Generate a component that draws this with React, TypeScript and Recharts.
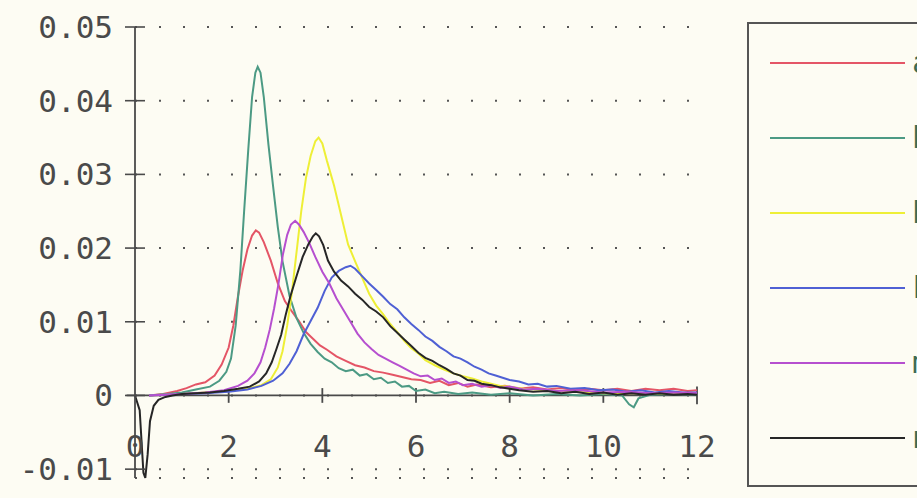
import React from 'react';
import { LineChart, Line, XAxis, YAxis, CartesianGrid, ReferenceLine } from 'recharts';

// Series labels and colours (legend order)
const seriesNames = ['a', 'b', 'h', 'k', 'm', 'n'];
const seriesColors = ['#e45566', '#4c9a84', '#eeef36', '#4f60d4', '#b64fcf', '#262626'];

const xTicks = [0, 2, 4, 6, 8, 10, 12];
const yTicks = [-0.01, 0, 0.01, 0.02, 0.03, 0.04, 0.05];
const xTickMarks = [2, 4, 6, 8, 10, 12];

// [x, y] readings per curve
const redPoints: [number, number][] = [
  [0.3, 0], [0.6, 0.0002], [0.9, 0.0006], [1.1, 0.001], [1.3, 0.0015], [1.5, 0.0018], [1.7, 0.0027],
  [1.85, 0.0042], [2.0, 0.0065], [2.1, 0.0095], [2.2, 0.0135], [2.3, 0.017], [2.4, 0.0198], [2.5, 0.0217],
  [2.58, 0.0224], [2.65, 0.0221], [2.75, 0.0208], [2.9, 0.0183], [3.05, 0.0152], [3.2, 0.0128], [3.35, 0.0114],
  [3.5, 0.0101], [3.65, 0.0086], [3.8, 0.0077], [3.95, 0.0068], [4.1, 0.0062], [4.3, 0.0053], [4.5, 0.0047],
  [4.7, 0.0041], [4.9, 0.0038], [5.1, 0.0033], [5.3, 0.0031], [5.5, 0.0028], [5.7, 0.0025], [5.9, 0.0022],
  [6.1, 0.0021], [6.3, 0.0017], [6.5, 0.002], [6.7, 0.0014], [6.9, 0.0017], [7.1, 0.0012], [7.3, 0.0015],
  [7.6, 0.0011], [7.9, 0.0013], [8.2, 0.0009], [8.5, 0.0011], [8.8, 0.0008], [9.1, 0.001], [9.4, 0.0007],
  [9.7, 0.0009], [10, 0.0007], [10.3, 0.0009], [10.6, 0.0006], [10.9, 0.0009], [11.2, 0.0007], [11.5, 0.0009],
  [11.8, 0.0006], [12, 0.0007],
];

const greenPoints: [number, number][] = [
  [0.3, 0], [0.7, 0.0002], [1.0, 0.0004], [1.3, 0.0008], [1.6, 0.0012], [1.8, 0.002], [1.95, 0.0032],
  [2.05, 0.005], [2.15, 0.0095], [2.25, 0.017], [2.33, 0.025], [2.42, 0.0335], [2.5, 0.0405], [2.57, 0.0438],
  [2.62, 0.0446], [2.68, 0.0438], [2.75, 0.0405], [2.85, 0.034], [2.95, 0.0283], [3.05, 0.0228], [3.15, 0.0182],
  [3.3, 0.0135], [3.45, 0.0105], [3.6, 0.0085], [3.75, 0.007], [3.9, 0.0059], [4.05, 0.005], [4.2, 0.0045],
  [4.35, 0.0037], [4.5, 0.0033], [4.65, 0.0035], [4.8, 0.0027], [4.95, 0.0029], [5.1, 0.0022], [5.25, 0.0024],
  [5.4, 0.0017], [5.55, 0.0019], [5.7, 0.0012], [5.85, 0.0013], [6.0, 0.0006], [6.2, 0.0008], [6.4, 0.0003],
  [6.6, 0.0005], [6.9, 0.0002], [7.2, 0.0004], [7.6, 0.0001], [8, 0.0003], [8.5, 0], [9, 0.0002], [9.5, 0],
  [10, 0.0002], [10.4, 0], [10.55, -0.0012], [10.65, -0.0016], [10.75, -0.0004], [11, 0.0001], [11.5, 0.0002],
  [12, 0.0001],
];

const yellowPoints: [number, number][] = [
  [0.3, 0], [1, 0.0002], [1.5, 0.0004], [2, 0.0006], [2.4, 0.0009], [2.7, 0.0014], [2.9, 0.0022],
  [3.05, 0.0038], [3.15, 0.006], [3.25, 0.0095], [3.35, 0.014], [3.45, 0.0195], [3.55, 0.025], [3.65, 0.0295],
  [3.75, 0.0325], [3.85, 0.0345], [3.92, 0.035], [4.0, 0.0342], [4.1, 0.0318], [4.25, 0.0285], [4.4, 0.0245],
  [4.55, 0.0205], [4.7, 0.0182], [4.85, 0.016], [5.0, 0.0138], [5.15, 0.0122], [5.3, 0.011], [5.45, 0.0097],
  [5.6, 0.0086], [5.75, 0.0074], [5.9, 0.0064], [6.05, 0.0057], [6.2, 0.0048], [6.4, 0.0041], [6.6, 0.0035],
  [6.8, 0.003], [7.0, 0.0026], [7.2, 0.0023], [7.4, 0.0019], [7.6, 0.0016], [7.8, 0.0013], [8.0, 0.0012],
  [8.3, 0.0009], [8.6, 0.0008], [9, 0.0006], [9.5, 0.0005], [10, 0.0003], [11, 0.0003], [12, 0.0002],
];

const bluePoints: [number, number][] = [
  [0.3, 0], [1, 0.0002], [1.5, 0.0003], [2, 0.0005], [2.4, 0.0008], [2.7, 0.0013], [2.95, 0.002],
  [3.15, 0.003], [3.3, 0.0043], [3.45, 0.006], [3.6, 0.0083], [3.75, 0.0101], [3.9, 0.0119], [4.05, 0.0142],
  [4.2, 0.016], [4.35, 0.0169], [4.5, 0.0174], [4.6, 0.0176], [4.7, 0.0172], [4.85, 0.0162], [5.0, 0.0152],
  [5.15, 0.0143], [5.3, 0.0134], [5.45, 0.0124], [5.6, 0.0117], [5.75, 0.0106], [5.9, 0.0097], [6.05, 0.0089],
  [6.2, 0.008], [6.35, 0.0074], [6.5, 0.0066], [6.65, 0.006], [6.8, 0.0053], [6.95, 0.005], [7.1, 0.0045],
  [7.25, 0.0039], [7.4, 0.0035], [7.55, 0.003], [7.7, 0.0027], [7.85, 0.0024], [8.0, 0.0021], [8.2, 0.0019],
  [8.4, 0.0015], [8.6, 0.0016], [8.8, 0.0012], [9.0, 0.0013], [9.3, 0.0009], [9.6, 0.001], [9.9, 0.0007],
  [10.2, 0.0008], [10.5, 0.0005], [10.8, 0.0007], [11.1, 0.0004], [11.4, 0.0006], [11.7, 0.0004], [12, 0.0004],
];

const magentaPoints: [number, number][] = [
  [0.3, 0], [1, 0.0002], [1.5, 0.0004], [1.9, 0.0007], [2.2, 0.0013], [2.4, 0.002], [2.55, 0.003],
  [2.68, 0.0045], [2.78, 0.0065], [2.88, 0.009], [2.97, 0.0118], [3.06, 0.015], [3.16, 0.0192], [3.25, 0.0218],
  [3.33, 0.0232], [3.42, 0.0237], [3.5, 0.0232], [3.6, 0.0222], [3.72, 0.0207], [3.85, 0.0188], [4.0, 0.0168],
  [4.15, 0.0152], [4.3, 0.0132], [4.45, 0.0116], [4.6, 0.01], [4.75, 0.0084], [4.9, 0.0072], [5.05, 0.0063],
  [5.2, 0.0055], [5.35, 0.005], [5.5, 0.0045], [5.65, 0.004], [5.8, 0.0035], [5.95, 0.003], [6.1, 0.0026],
  [6.25, 0.0027], [6.4, 0.0021], [6.55, 0.0023], [6.7, 0.0017], [6.85, 0.0019], [7.0, 0.0014], [7.2, 0.0016],
  [7.4, 0.0012], [7.6, 0.0014], [7.8, 0.001], [8.0, 0.0012], [8.3, 0.0008], [8.6, 0.0009], [9, 0.0006],
  [9.5, 0.0007], [10, 0.0004], [10.5, 0.0005], [11, 0.0003], [11.5, 0.0004], [12, 0.0003],
];

const blackPoints: [number, number][] = [
  [0, 0], [0.1, -0.002], [0.18, -0.0105], [0.22, -0.0112], [0.27, -0.008], [0.32, -0.0035], [0.4, -0.0014],
  [0.5, -0.0006], [0.65, -0.0002], [0.8, 0], [1.0, 0.0002], [1.3, 0.0003], [1.6, 0.0004], [1.9, 0.0006],
  [2.2, 0.0009], [2.45, 0.0012], [2.65, 0.0019], [2.8, 0.003], [2.92, 0.0045], [3.02, 0.0063], [3.12, 0.0082],
  [3.22, 0.011], [3.32, 0.0135], [3.45, 0.0162], [3.58, 0.0188], [3.7, 0.0205], [3.8, 0.0216], [3.86, 0.022],
  [3.93, 0.0216], [4.02, 0.0204], [4.12, 0.0183], [4.25, 0.0168], [4.4, 0.0156], [4.55, 0.0148], [4.7, 0.0138],
  [4.85, 0.013], [5.0, 0.012], [5.15, 0.0114], [5.3, 0.0106], [5.45, 0.0094], [5.6, 0.0085], [5.75, 0.0076],
  [5.9, 0.0067], [6.05, 0.0058], [6.2, 0.0051], [6.35, 0.0047], [6.5, 0.0041], [6.65, 0.0036], [6.8, 0.003],
  [6.95, 0.0027], [7.1, 0.0021], [7.25, 0.002], [7.4, 0.0016], [7.6, 0.0014], [7.8, 0.0011], [8.0, 0.0009],
  [8.2, 0.0007], [8.5, 0.0005], [8.8, 0.0006], [9.1, 0.0003], [9.4, 0.0005], [9.7, 0.0002], [10, 0.0004],
  [10.3, 0.0001], [10.6, 0.0003], [10.9, 0.0001], [11.2, 0.0003], [11.5, 0.0001], [11.8, 0.0002], [12, 0.0001],
];

const allPoints = [redPoints, greenPoints, yellowPoints, bluePoints, magentaPoints, blackPoints];

const toRows = (pts: [number, number][]) => pts.map(([x, y]) => ({ x, y }));

const FONT = '"DejaVu Sans Mono", monospace';
const INK = '#4a4a4a';

const YTick = ({ x, y, payload }: any) => (
  <g>
    <line x1={x - 10} x2={x + 10} y1={y} y2={y} stroke={INK} strokeWidth={1.6} />
    <text
      x={x - 22}
      y={y}
      textAnchor="end"
      dominantBaseline="central"
      fontFamily={FONT}
      fontSize={31}
      fill={INK}
    >
      {payload.value === 0 ? '0' : payload.value.toFixed(2)}
    </text>
  </g>
);

const XTick = ({ x, y, payload }: any) => (
  <text
    x={x}
    y={y - 32}
    textAnchor="middle"
    dominantBaseline="central"
    fontFamily={FONT}
    fontSize={31}
    fill={INK}
  >
    {payload.value}
  </text>
);

export default function App() {
  return (
    <div
      style={{
        position: 'relative',
        width: 917,
        height: 498,
        overflow: 'hidden',
        background: '#fdfcf3',
      }}
    >
      <style>{`body { margin: 0; background: #fdfcf3; }`}</style>
      <LineChart width={917} height={498} margin={{ top: 27, right: 220, bottom: 0, left: 0 }}>
        <CartesianGrid
          vertical={false}
          stroke="#555"
          strokeWidth={2}
          strokeDasharray="2 22"
        />
        <XAxis
          dataKey="x"
          type="number"
          domain={[0, 12]}
          ticks={xTicks}
          height={20}
          axisLine={false}
          tickLine={false}
          tickSize={0}
          tickMargin={0}
          tick={<XTick />}
          allowDuplicatedCategory={false}
        />
        <YAxis
          type="number"
          domain={[-0.01, 0.05]}
          ticks={yTicks}
          width={135}
          axisLine={{ stroke: INK, strokeWidth: 1.8 }}
          tickLine={false}
          tickSize={0}
          tickMargin={0}
          tick={<YTick />}
        />
        <ReferenceLine
          segment={[{ x: -0.18, y: 0 }, { x: 12, y: 0 }]}
          stroke={INK}
          strokeWidth={1.8}
          ifOverflow="visible"
        />
        {xTickMarks.map((t) => (
          <ReferenceLine
            key={t}
            segment={[{ x: t, y: t === 12 ? -0.0012 : -0.001 }, { x: t, y: t === 12 ? 0.0012 : 0.001 }]}
            stroke={INK}
            strokeWidth={1.8}
            ifOverflow="visible"
          />
        ))}
        {allPoints.map((pts, i) => (
          <Line
            key={seriesNames[i]}
            data={toRows(pts)}
            dataKey="y"
            name={seriesNames[i]}
            type="linear"
            stroke={seriesColors[i]}
            strokeWidth={2}
            dot={false}
            isAnimationActive={false}
          />
        ))}
      </LineChart>

      {/* Legend box, running off the right edge */}
      <div
        style={{
          position: 'absolute',
          left: 747,
          top: 22,
          width: 240,
          height: 465,
          boxSizing: 'border-box',
          border: '2px solid #555',
          paddingTop: 1,
        }}
      >
        {seriesNames.map((name, i) => (
          <div key={name} style={{ height: 75, display: 'flex', alignItems: 'center' }}>
            <div style={{ marginLeft: 21, width: 135, height: 2, background: seriesColors[i] }} />
            <span
              style={{
                marginLeft: 7,
                fontFamily: FONT,
                fontSize: 31,
                color: '#3d6b52',
                lineHeight: 1,
              }}
            >
              {name}
            </span>
          </div>
        ))}
      </div>
    </div>
  );
}
